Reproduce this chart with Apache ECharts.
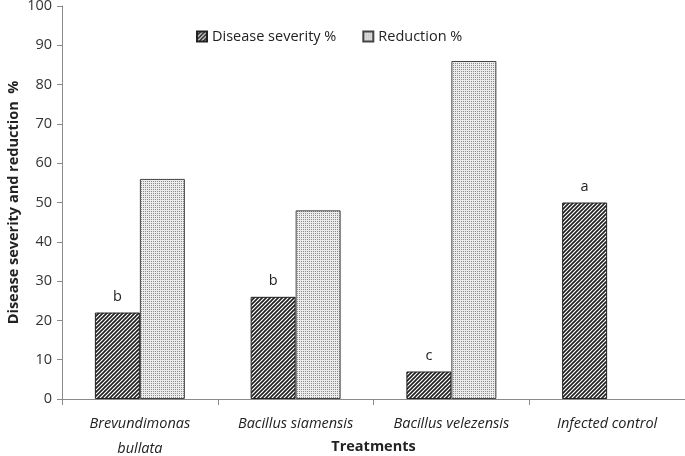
<!DOCTYPE html>
<html><head><meta charset="utf-8">
<script src="https://cdn.jsdelivr.net/npm/echarts@6/dist/echarts.min.js"></script>
<style>html,body{margin:0;padding:0;background:#fff}#c{width:685px;height:456px}</style>
</head><body><div id="c"></div>
<script>
const categories = ['Brevundimonas\nbullata', 'Bacillus siamensis', 'Bacillus velezensis', 'Infected control'];
const severity = [22, 26, 7, 50];
const reduction = [56, 48, 86, null];
const letters = ['b', 'b', 'c', 'a'];
const yTicks = {min: 0, max: 100, interval: 10};

function hatch() {
  const c = document.createElement('canvas');
  c.width = 4; c.height = 4;
  const g = c.getContext('2d');
  g.fillStyle = '#fff'; g.fillRect(0, 0, 4, 4);
  g.strokeStyle = '#1e1e1e'; g.lineWidth = 1.6;
  g.beginPath();
  g.moveTo(-1, 5); g.lineTo(5, -1);
  g.moveTo(-1, 1); g.lineTo(1, -1);
  g.moveTo(3, 5); g.lineTo(5, 3);
  g.stroke();
  return c;
}
function dots() {
  const c = document.createElement('canvas');
  c.width = 2; c.height = 2;
  const g = c.getContext('2d');
  g.fillStyle = '#ececec'; g.fillRect(0, 0, 2, 2);
  g.fillStyle = '#8c8c8c'; g.fillRect(1, 1, 1, 1);
  return c;
}
const font = '"Open Sans", "Liberation Sans", sans-serif';
const chart = echarts.init(document.getElementById('c'), null, {renderer: 'canvas'});
chart.setOption({
  animation: false,
  textStyle: {fontFamily: font},
  legend: {
    top: 24, left: 191, itemWidth: 10, itemHeight: 10, itemGap: 26,
    textStyle: {fontSize: 14.5, color: '#222', fontFamily: font},
    data: [{name: 'Disease severity %', icon: 'rect'}, {name: 'Reduction %', icon: 'rect'}]
  },
  grid: {left: 62, right: 0, top: 6, bottom: 57, containLabel: false, outerBoundsMode: 'none'},
  xAxis: {
    type: 'category', data: categories,
    name: 'Treatments', nameLocation: 'middle', nameGap: 40, nameMoveOverlap: false,
    nameTextStyle: {fontWeight: 'bold', fontSize: 14.5, color: '#222', fontFamily: font},
    axisLine: {lineStyle: {color: '#8a8a8a'}},
    axisTick: {show: true, length: 6, interval: 0, lineStyle: {color: '#8a8a8a'}},
    axisLabel: {fontStyle: 'italic', fontSize: 14.5, color: '#222', margin: 12, lineHeight: 25, interval: 0, fontFamily: font}
  },
  yAxis: {
    type: 'value', min: yTicks.min, max: yTicks.max, interval: yTicks.interval,
    name: 'Disease severity and reduction  %', nameLocation: 'middle', nameGap: 41, nameMoveOverlap: false,
    nameTextStyle: {fontWeight: 'bold', fontSize: 14.5, color: '#222', fontFamily: font},
    axisLine: {show: true, lineStyle: {color: '#8a8a8a'}},
    axisTick: {show: true, length: 5, lineStyle: {color: '#8a8a8a'}},
    splitLine: {show: false},
    axisLabel: {fontSize: 14.5, color: '#333', margin: 10, fontFamily: font}
  },
  series: [
    {
      name: 'Disease severity %', type: 'bar', data: severity, barWidth: 45, barGap: '0%',
      itemStyle: {color: {image: hatch(), repeat: 'repeat'}, borderColor: '#222', borderWidth: 1},
      label: {show: true, position: 'top', distance: 8, fontSize: 14.5, color: '#222', fontFamily: font,
        formatter: p => letters[p.dataIndex]}
    },
    {
      name: 'Reduction %', type: 'bar', data: reduction, barWidth: 45,
      itemStyle: {color: {image: dots(), repeat: 'repeat'}, borderColor: '#444', borderWidth: 1}
    }
  ]
});
</script></body></html>
